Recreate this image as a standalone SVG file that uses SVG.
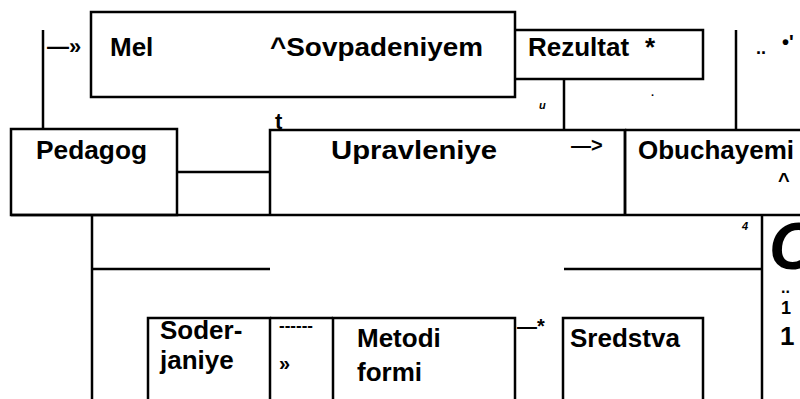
<svg xmlns="http://www.w3.org/2000/svg" width="800" height="399" viewBox="0 0 800 399">
<style>
.b{fill:none;stroke:#000;stroke-width:2.5}
.t{font-family:"Liberation Sans",Arial,sans-serif;font-weight:bold;font-size:26px;fill:#000}
.s{font-family:"Liberation Sans",Arial,sans-serif;font-weight:bold;font-style:italic;font-size:11px;fill:#000}
</style>
<rect width="800" height="399" fill="#fff"/>
<g id="mel">
<path class="b" d="M91,12H515V97H91Z"/>
<text class="t" x="110" y="56">Mel</text>
<text class="t" x="270" y="56" textLength="213" lengthAdjust="spacingAndGlyphs">^Sovpadeniyem</text>
</g>
<g id="rezultat">
<path class="b" d="M515,30H703V79H515"/>
<text class="t" x="528" y="56">Rezultat</text>
<text class="t" x="645" y="56">*</text>
</g>
<g id="pedagog">
<path class="b" d="M11,129H177V215H11Z"/>
<text class="t" x="36" y="159" textLength="111" lengthAdjust="spacingAndGlyphs">Pedagog</text>
</g>
<g id="upravleniye">
<path class="b" d="M270,215V130H625V215"/>
<text class="t" x="331" y="159" textLength="166" lengthAdjust="spacingAndGlyphs">Upravleniye</text>
</g>
<g id="obuchayemi">
<path class="b" d="M625,130H800M625,130V215"/>
<text class="t" x="638" y="159">Obuchayemi</text>
<text class="t" x="778" y="187" style="font-size:20px">^</text>
</g>
<g id="soderjaniye">
<path class="b" d="M148,399V318H270V399"/>
<text class="t" x="160" y="339">Soder-</text>
<text class="t" x="160" y="369">janiye</text>
</g>
<g id="metodi">
<path class="b" d="M333,399V318H515V399"/>
<text class="t" x="357" y="347">Metodi</text>
<text class="t" x="357" y="381">formi</text>
</g>
<g id="sredstva">
<path class="b" d="M563,399V318H703V399"/>
<text class="t" x="570" y="347">Sredstva</text>
</g>
<g id="connectors">
<path class="b" d="M11,215H800"/>
<path class="b" d="M270,318H333"/>
<path class="b" d="M43,30V129"/>
<path class="b" d="M177,172H270"/>
<path class="b" d="M564,79V130"/>
<path class="b" d="M736,30V130"/>
<path class="b" d="M92,215V399M92,269H270"/>
<path class="b" d="M564,269H762M762,215V399"/>
<text class="t" x="47" y="54" style="font-size:22px">—»</text>
<text class="t" x="571" y="152" style="font-size:20px">—&gt;</text>
<text class="t" x="517" y="333" style="font-size:20px">—*</text>
<text class="t" x="279" y="331" style="font-size:17px">------</text>
<text class="t" x="279" y="370" style="font-size:20px">»</text>
<text class="t" x="275" y="129" style="font-size:22px">t</text>
<text class="s" x="539" y="109">u</text>
<text class="t" x="651" y="96" style="font-size:11px">.</text>
<text class="s" x="742" y="230">4</text>
<text class="t" x="756" y="54" style="font-size:18px">..</text>
<text class="t" x="782" y="49" style="font-size:20px">•'</text>
<text class="t" x="769" y="269" style="font-size:66px;font-style:italic">C</text>
<text class="t" x="781" y="293" style="font-size:16px">..</text>
<text class="t" x="781" y="314" style="font-size:18px">1</text>
<text class="t" x="780" y="345" style="font-size:26px">1</text>
</g>
</svg>
